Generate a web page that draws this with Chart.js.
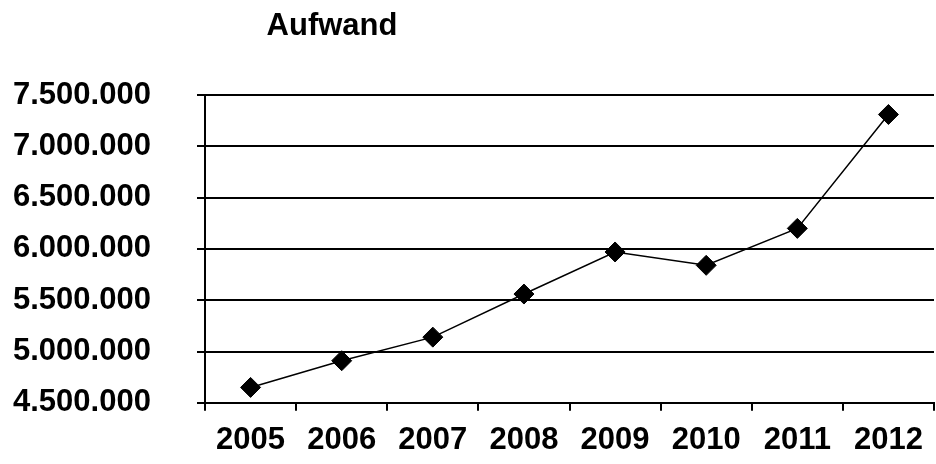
<!DOCTYPE html>
<html>
<head>
<meta charset="utf-8">
<script src="https://cdn.jsdelivr.net/npm/chart.js@4.4.0/dist/chart.umd.min.js"></script>
<style>
  html, body { margin: 0; padding: 0; background: #fff; }
  #wrap { width: 936px; height: 464px; }
</style>
</head>
<body>
<div id="wrap"><canvas id="chart"></canvas></div>
<script>
// Chart data
const years = ["2005", "2006", "2007", "2008", "2009", "2010", "2011", "2012"];
const aufwand = [4650000, 4910000, 5140000, 5560000, 5970000, 5840000, 6200000, 7310000];
const chartTitle = "Aufwand";
const yMin = 4500000;
const yMax = 7500000;
const yStep = 500000;

const FONT = "'Liberation Sans', Arial, sans-serif";

// German thousands separator
function formatDe(v) {
  return String(Math.round(v)).replace(/\B(?=(\d{3})+(?!\d))/g, ".");
}

// Title sits left of centre in the original, so draw it ourselves
const titlePlugin = {
  id: "leftTitle",
  afterDraw(chart) {
    const ctx = chart.ctx;
    ctx.save();
    ctx.font = "bold 31px " + FONT;
    ctx.fillStyle = "#000";
    ctx.textAlign = "center";
    ctx.textBaseline = "middle";
    ctx.fillText(chartTitle, 332, 26);
    ctx.restore();
  },
};

const ctx = document.getElementById("chart").getContext("2d");

new Chart(ctx, {
  type: "line",
  data: {
    labels: years,
    datasets: [
      {
        label: chartTitle,
        data: aufwand,
        borderColor: "#000",
        borderWidth: 1.5,
        backgroundColor: "#000",
        pointStyle: "rectRot",
        pointRadius: 10,
        pointBorderWidth: 1,
        pointBackgroundColor: "#000",
        pointBorderColor: "#000",
        tension: 0,
        fill: false,
      },
    ],
  },
  options: {
    responsive: true,
    maintainAspectRatio: false,
    animation: false,
    layout: {
      autoPadding: false,
      padding: { top: 95, right: 2, bottom: -6, left: 13 },
    },
    scales: {
      x: {
        offset: true,
        grid: {
          offset: true,
          drawOnChartArea: false,
          drawTicks: true,
          tickLength: 8,
          color: "#000",
          lineWidth: 2,
        },
        border: { color: "#000", width: 2 },
        ticks: {
          color: "#000",
          padding: 11,
          maxRotation: 0,
          font: { family: FONT, size: 31, weight: "bold" },
        },
      },
      y: {
        min: yMin,
        max: yMax,
        grid: {
          color: "#000",
          lineWidth: 2,
          tickLength: 8,
        },
        border: { color: "#000", width: 2 },
        ticks: {
          stepSize: yStep,
          color: "#000",
          padding: 0,
          // labels all have the same width, so pin them to the left edge
          crossAlign: "far",
          font: { family: FONT, size: 31, weight: "bold" },
          callback: (v) => formatDe(v),
        },
        afterFit: (scale) => {
          scale.width = 192;
        },
      },
    },
    plugins: {
      legend: { display: false },
      title: { display: false },
      tooltip: { enabled: false },
    },
  },
  plugins: [titlePlugin],
});
</script>
</body>
</html>
